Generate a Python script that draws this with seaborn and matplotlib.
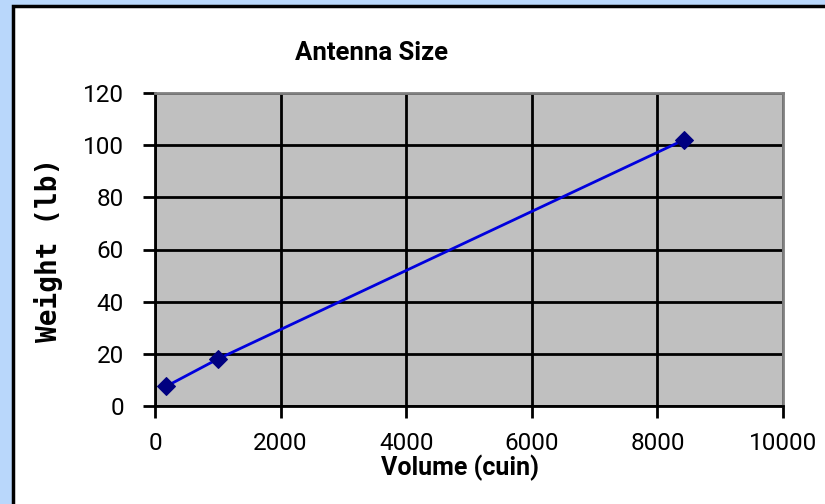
import matplotlib.pyplot as plt
import seaborn as sns
import pandas as pd
from matplotlib.patches import Rectangle

# Antenna data
volume = [175, 1000, 8420]
weight = [7.5, 18, 102]
x_ticks = [0, 2000, 4000, 6000, 8000, 10000]
y_ticks = [0, 20, 40, 60, 80, 100, 120]

data = pd.DataFrame({'Volume': volume, 'Weight': weight})

sns.set_style('white')
plt.rcParams['font.family'] = ['Roboto', 'DejaVu Sans']
plt.rcParams['text.color'] = 'black'
plt.rcParams['axes.labelcolor'] = 'black'
plt.rcParams['xtick.color'] = 'black'
plt.rcParams['ytick.color'] = 'black'

fig = plt.figure(figsize=(8.25, 5.04), dpi=100)
fig.patch.set_facecolor('#b9d7fb')
# white panel with black frame
fig.patches.append(Rectangle((13 / 825, -0.05), 1.0, 1 - 6 / 504 + 0.05,
                             transform=fig.transFigure, facecolor='white',
                             edgecolor='black', linewidth=2.5, zorder=-10))

ax = fig.add_axes([155 / 825, 1 - 406 / 504, 628 / 825, 313 / 504])
ax.set_facecolor('#c0c0c0')

sns.lineplot(data=data, x='Volume', y='Weight', ax=ax, color='#0000dd',
             linewidth=2, marker='D', markersize=9, markerfacecolor='#000080',
             markeredgecolor='#000080', zorder=3)

ax.set_xlim(0, 10000)
ax.set_ylim(0, 120)
ax.set_xticks(x_ticks)
ax.set_yticks(y_ticks)
ax.grid(True, color='black', linewidth=2)
ax.set_axisbelow(True)
ax.tick_params(axis='both', direction='out', length=8.5, width=2, color='black',
               labelsize=17.5, bottom=True, left=True)
ax.tick_params(axis='y', pad=14)
ax.tick_params(axis='x', pad=10)
for s in ['left', 'bottom']:
    ax.spines[s].set_color('black')
    ax.spines[s].set_linewidth(2)
for s in ['top', 'right']:
    ax.spines[s].set_color('#808080')
    ax.spines[s].set_linewidth(2)

ax.set_title('Antenna Size', fontsize=18.5, fontweight='bold', pad=24, x=0.344)
ax.set_xlabel('Volume (cuin)', fontsize=18, fontweight='bold', labelpad=0, x=0.486)
ax.set_ylabel('Weight (lb)', fontsize=20, fontweight='bold',
              family=['DejaVu Sans Mono'], labelpad=14)

fig.savefig('out.png', dpi=100, facecolor=fig.get_facecolor())
